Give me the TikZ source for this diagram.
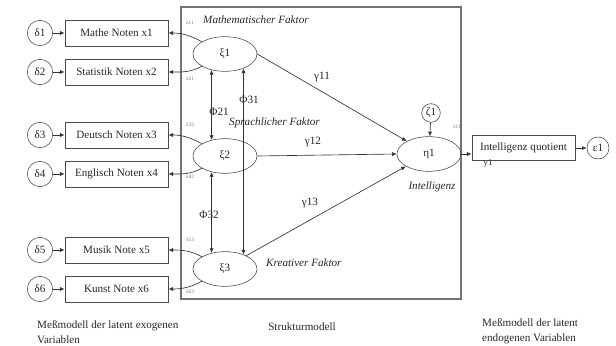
\documentclass[tikz,border=0pt]{standalone}
\usepackage{fontspec}
\setmainfont{Liberation Serif}
\usetikzlibrary{arrows.meta,shapes.geometric}
\begin{document}
\begin{tikzpicture}[x=0.03cm,y=0.03cm,
  font=\fontsize{9.5}{11}\selectfont,
  every node/.style={text=black!85},
  box/.style={draw=black!70,line width=0.7pt,minimum width=3.09cm,minimum height=0.78cm,inner sep=0pt},
  err/.style={draw=black!70,circle,line width=0.5pt,minimum size=0.76cm,inner sep=0pt},
  sml/.style={draw=black!70,circle,line width=0.5pt,minimum size=0.56cm,inner sep=0pt},
  lat/.style={draw=black!70,ellipse,line width=0.5pt,minimum width=1.92cm,minimum height=1.04cm,inner sep=0pt},
  arr/.style={draw=black!80,-{Latex[length=4pt,width=3.5pt]},line width=0.55pt},
  dbl/.style={draw=black!80,{Latex[length=4pt,width=3.5pt]}-{Latex[length=4pt,width=3.5pt]},line width=0.55pt},
  fac/.style={font=\fontsize{9.5}{11}\selectfont\itshape},
  lam/.style={font=\fontsize{4.5}{5}\selectfont,text=black!55,inner sep=0pt},
  lbl/.style={inner sep=0pt},
]
\useasboundingbox (0,0) rectangle (616,-346);
\draw[black!55,line width=0.9pt] (181,-7) rectangle (461,-299);

% exogenous indicators
\node[err] (d1) at (40,-33) {δ1};
\node[err] (d2) at (40,-72) {δ2};
\node[err] (d3) at (40,-135) {δ3};
\node[err] (d4) at (40,-174) {δ4};
\node[err] (d5) at (40,-250) {δ5};
\node[err] (d6) at (40,-289) {δ6};
\node[box] (m1) at (116.5,-33) {Mathe Noten x1};
\node[box] (m2) at (116.5,-72) {Statistik Noten x2};
\node[box] (m3) at (116.5,-135) {Deutsch Noten x3};
\node[box] (m4) at (116.5,-174) {Englisch Noten x4};
\node[box] (m5) at (116.5,-250) {Musik Note x5};
\node[box] (m6) at (116.5,-289) {Kunst Note x6};
\foreach \i in {1,...,6} {\draw[arr] (d\i) -- (m\i);}

% latent exogenous
\node[lat] (xi1) at (225,-54) {ξ1};
\node[lat] (xi2) at (225,-156) {ξ2};
\node[lat] (xi3) at (225,-269) {ξ3};

\draw[arr] (xi1.152) to[out=152,in=0] (m1.east);
\draw[arr] (xi1.208) to[out=208,in=0] (m2.east);
\draw[arr] (xi2.152) to[out=152,in=0] (m3.east);
\draw[arr] (xi2.208) to[out=208,in=0] (m4.east);
\draw[arr] (xi3.152) to[out=152,in=0] (m5.east);
\draw[arr] (xi3.208) to[out=208,in=0] (m6.east);

\node[lam] (l11) at (190,-23) {λ11};
\node[lam] (l21) at (190,-79) {λ21};
\node[lam] (l32) at (190,-125) {λ32};
\node[lam] (l42) at (190,-177) {λ42};
\node[lam] (l53) at (190,-240) {λ53};
\node[lam] (l63) at (190,-292) {λ63};

% correlations
\draw[dbl] (xi1.230) -- (xi2.130);
\draw[dbl] (xi2.230) -- (xi3.130);
\draw[dbl] (xi1.322) -- (xi3.38);
\node[lbl] (p21) at (219,-112) {Φ21};
\node[lbl] (p31) at (249,-100) {Φ31};
\node[lbl] (p32) at (209,-215) {Φ32};

% factor labels
\node[fac,anchor=west,inner sep=0pt] (f1) at (203,-20) {Mathematischer Faktor};
\node[fac,anchor=west,inner sep=0pt] (f2) at (229,-123) {Sprachlicher Faktor};
\node[fac,anchor=west,inner sep=0pt] (f3) at (266,-263) {Kreativer Faktor};

% endogenous
\node[lat] (eta) at (429,-154) {η1};
\node[sml] (zeta) at (431,-113) {ζ1};
\node[fac,inner sep=0pt] (fi) at (432,-187) {Intelligenz};
\draw[arr] (zeta) -- (eta);

\draw[arr] (xi1.east) -- (eta.150);
\draw[arr] (xi2.east) -- (eta.west);
\draw[arr] (xi3.32) -- (eta.208);
\node[lbl] (g11) at (322,-77) {γ11};
\node[lbl] (g12) at (313,-142) {γ12};
\node[lbl] (g13) at (310,-203) {γ13};

\node[box,minimum height=0.76cm] (iq) at (523.5,-148) {Intelligenz quotient};
\node[err,minimum size=0.66cm] (eps) at (598,-148) {ε1};
\draw[arr] (eta.east) -- (eta.east -| iq.west);
\draw[arr] (iq) -- (eps);
\node[lam] (ly) at (457,-127) {λ11};
\node[lbl,font=\fontsize{7.5}{8}\selectfont] (y1) at (488,-164) {y1};

% bottom captions
\node[anchor=north west,align=left,inner sep=0pt,font=\fontsize{9.5}{13}\selectfont] (c1) at (37,-320) {Meßmodell der latent exogenen\\Variablen};
\node[inner sep=0pt] (c2) at (302,-327) {Strukturmodell};
\node[anchor=north west,align=left,inner sep=0pt,font=\fontsize{9.5}{13}\selectfont] (c3) at (482,-318) {Meßmodell der latent\\endogenen Variablen};
\end{tikzpicture}
\end{document}
